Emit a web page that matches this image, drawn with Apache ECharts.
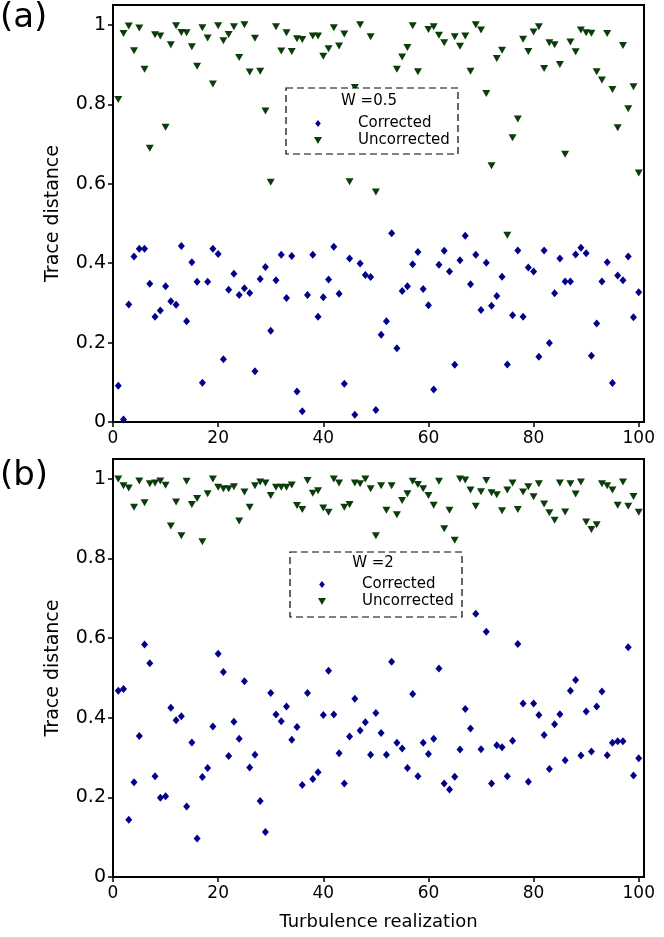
<!DOCTYPE html>
<html>
<head>
<meta charset="utf-8">
<script src="https://cdn.jsdelivr.net/npm/echarts@6/dist/echarts.min.js"></script>
<style>html,body{margin:0;padding:0;background:#fff;}#c{width:664px;height:937px;}</style>
</head>
<body>
<div id="c"></div>
<script>
// Realization index (x)
const realizations = Array.from({length: 100}, (_, k) => k + 1);

// Panel (a): W = 0.5
const correctedA = [0.091,0.006,0.296,0.417,0.436,0.436,0.348,0.265,0.281,0.342,
0.304,0.295,0.443,0.254,0.402,0.353,0.099,0.353,0.436,0.423,
0.158,0.333,0.373,0.320,0.337,0.325,0.128,0.360,0.390,0.230,
0.357,0.421,0.312,0.418,0.077,0.027,0.320,0.421,0.265,0.314,
0.359,0.441,0.323,0.096,0.412,0.018,0.399,0.370,0.365,0.030,
0.220,0.254,0.475,0.186,0.330,0.342,0.397,0.428,0.335,0.294,
0.082,0.396,0.431,0.379,0.144,0.407,0.469,0.347,0.421,0.282,
0.401,0.293,0.317,0.366,0.145,0.269,0.432,0.265,0.389,0.379,
0.164,0.432,0.199,0.324,0.412,0.354,0.354,0.422,0.439,0.425,
0.167,0.248,0.354,0.402,0.098,0.369,0.357,0.417,0.264,0.327];
const uncorrectedA = [0.812,0.978,0.997,0.935,0.992,0.888,0.689,0.975,0.972,0.742,
0.950,0.998,0.981,0.980,0.945,0.896,0.993,0.967,0.851,0.998,
0.960,0.976,0.995,0.918,1.000,0.881,0.966,0.883,0.783,0.604,
0.995,0.934,0.980,0.933,0.965,0.963,0.800,0.972,0.972,0.921,
0.940,0.993,0.947,0.977,0.605,0.842,1.000,0.750,0.970,0.579,
0.720,0.780,0.700,0.888,0.919,0.943,0.998,0.882,0.820,0.988,
0.995,0.974,0.955,0.760,0.970,0.946,0.972,0.883,1.000,0.987,
0.827,0.645,0.915,0.936,0.470,0.716,0.763,0.964,0.933,0.982,
0.995,0.890,0.955,0.950,0.900,0.674,0.957,0.932,0.987,0.980,
0.979,0.882,0.861,0.978,0.837,0.741,0.948,0.789,0.844,0.627];

// Panel (b): W = 2
const correctedB = [0.468,0.472,0.144,0.238,0.354,0.584,0.537,0.253,0.199,0.203,
0.425,0.394,0.404,0.177,0.338,0.097,0.251,0.274,0.378,0.561,
0.515,0.304,0.390,0.347,0.492,0.275,0.307,0.191,0.113,0.462,
0.408,0.391,0.428,0.345,0.377,0.231,0.462,0.246,0.263,0.407,
0.518,0.408,0.311,0.235,0.353,0.448,0.368,0.389,0.307,0.412,
0.362,0.307,0.541,0.337,0.323,0.274,0.460,0.253,0.337,0.309,
0.347,0.524,0.235,0.220,0.252,0.320,0.422,0.373,0.661,0.321,
0.616,0.235,0.331,0.326,0.253,0.342,0.585,0.436,0.239,0.436,
0.407,0.357,0.271,0.384,0.409,0.293,0.468,0.495,0.305,0.416,
0.315,0.428,0.466,0.306,0.337,0.341,0.341,0.577,0.255,0.298];
const uncorrectedB = [1.000,0.983,0.977,0.929,0.995,0.940,0.988,0.990,0.995,0.984,
0.882,0.942,0.857,0.994,0.936,0.951,0.842,0.963,1.000,0.979,
0.975,0.975,0.980,0.894,0.967,0.929,0.983,0.992,0.990,0.958,
0.979,0.979,0.979,0.985,0.933,0.923,0.996,0.964,0.970,0.927,
0.916,1.000,0.990,0.929,0.936,0.990,0.988,1.000,0.975,0.857,
0.983,0.921,0.983,0.910,0.946,0.963,0.994,0.986,0.975,0.958,
0.934,0.994,0.875,0.921,0.846,1.000,0.997,0.972,0.931,0.968,
0.996,0.965,0.960,0.920,0.972,0.990,0.923,0.967,0.980,0.955,
0.988,0.937,0.915,0.896,0.990,0.917,0.988,0.962,0.992,0.892,
0.873,0.885,0.988,0.983,0.972,0.934,0.992,0.931,0.956,0.916];

const xTicks = [0, 20, 40, 60, 80, 100];
const yTicks = [0, 0.2, 0.4, 0.6, 0.8, 1];
const seriesNames = ['Corrected', 'Uncorrected'];
const panelLabels = ['(a)', '(b)'];
const legendTitles = ['W =0.5', 'W =2'];

const FONT = 'DejaVu Sans';
const BLUE = '#00008b';
const GREEN = '#0b3d0b';
const TRI = 'path://M0,0 L10,0 L5,8.5 Z';
const DIA = 'path://M4,0 L8,5 L4,10 L0,5 Z';

const grids = [
  {left: 113, top: 5, width: 531, height: 417},
  {left: 113, top: 459, width: 531, height: 418}
];

function pairs(vals) { return vals.map((v, k) => [realizations[k], v]); }

function xAxis(gi, withName) {
  return {
    type: 'value', gridIndex: gi, min: 0, max: 101,
    axisLine: {show: true, lineStyle: {color: '#000', width: 2}},
    axisTick: {show: true, length: 5, lineStyle: {color: '#000', width: 1.5}, customValues: xTicks},
    axisLabel: {color: '#000', fontFamily: FONT, fontSize: 17, margin: 8, customValues: xTicks},
    splitLine: {show: false},
    name: withName ? 'Turbulence realization' : '',
    nameLocation: 'middle', nameGap: 36,
    nameTextStyle: {color: '#000', fontFamily: FONT, fontSize: 18}
  };
}
function yAxis(gi) {
  return {
    type: 'value', gridIndex: gi, min: 0, max: 1.05,
    axisLine: {show: true, lineStyle: {color: '#000', width: 2}},
    axisTick: {show: true, length: 5, lineStyle: {color: '#000', width: 1.5}, customValues: yTicks},
    axisLabel: {color: '#000', fontFamily: FONT, fontSize: 19, margin: 7, customValues: yTicks,
      formatter: v => (v === 0 ? '0' : v === 1 ? '1' : v.toFixed(1))},
    splitLine: {show: false},
    name: 'Trace distance', nameLocation: 'middle', nameGap: 50,
    nameTextStyle: {color: '#000', fontFamily: FONT, fontSize: 19}
  };
}

const legendBoxes = [
  {x: 286, y: 88, w: 172, h: 66, titleX: 369, titleY: 101, legLeft: 314, legTop: 116},
  {x: 290, y: 552, w: 172, h: 65, titleX: 373, titleY: 563, legLeft: 318, legTop: 577}
];

const graphic = [];
legendBoxes.forEach((b, k) => {
  graphic.push({type: 'rect', z: 100, shape: {x: b.x, y: b.y, width: b.w, height: b.h},
    style: {fill: '#fff', stroke: '#000', lineWidth: 1.2, lineDash: [7, 4]}});
  graphic.push({type: 'text', z: 102, x: b.titleX, y: b.titleY,
    style: {text: legendTitles[k], font: '15px "' + FONT + '"', fill: '#000', align: 'center', verticalAlign: 'middle'}});
});
graphic.push({type: 'text', z: 102, x: 0, y: 18,
  style: {text: panelLabels[0], font: '34px "' + FONT + '"', fill: '#000', align: 'left', verticalAlign: 'middle'}});
graphic.push({type: 'text', z: 102, x: 0, y: 476,
  style: {text: panelLabels[1], font: '34px "' + FONT + '"', fill: '#000', align: 'left', verticalAlign: 'middle'}});

const legends = legendBoxes.map(b => ({
  orient: 'vertical', left: b.legLeft, top: b.legTop, padding: 0, itemGap: 2,
  itemWidth: 8, itemHeight: 7, z: 101, selectedMode: false,
  data: seriesNames,
  textStyle: {color: '#000', fontFamily: FONT, fontSize: 15, padding: [0, 0, 0, 31]}
}));

function scatter(name, gi, vals, isCorr) {
  return {
    type: 'scatter', name: name, xAxisIndex: gi, yAxisIndex: gi,
    data: pairs(vals),
    symbol: isCorr ? DIA : TRI,
    symbolSize: isCorr ? [7, 8] : [8, 7],
    itemStyle: {color: isCorr ? BLUE : GREEN, opacity: 1},
    emphasis: {disabled: true},
    animation: false
  };
}

const chart = echarts.init(document.getElementById('c'), null, {renderer: 'canvas'});
chart.setOption({
  animation: false,
  backgroundColor: '#fff',
  grid: grids.map(g => Object.assign({show: true, borderColor: '#000', borderWidth: 2, backgroundColor: 'transparent'}, g)),
  xAxis: [xAxis(0, false), xAxis(1, true)],
  yAxis: [yAxis(0), yAxis(1)],
  legend: legends,
  graphic: graphic,
  series: [
    scatter(seriesNames[0], 0, correctedA, true),
    scatter(seriesNames[1], 0, uncorrectedA, false),
    scatter(seriesNames[0], 1, correctedB, true),
    scatter(seriesNames[1], 1, uncorrectedB, false)
  ]
});
</script>
</body>
</html>
